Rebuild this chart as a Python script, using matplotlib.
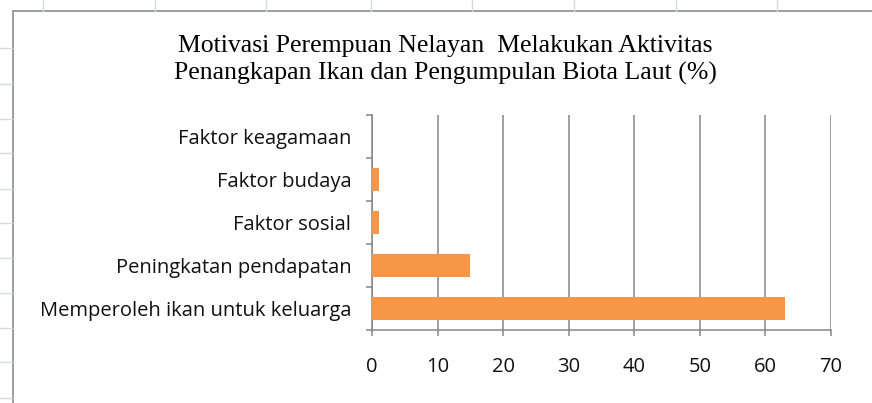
import matplotlib.pyplot as plt
from matplotlib.patches import Rectangle
from matplotlib.lines import Line2D

# chart data
categories = ["Memperoleh ikan untuk keluarga", "Peningkatan pendapatan",
              "Faktor sosial", "Faktor budaya", "Faktor keagamaan"]
values = [63, 15, 1, 1, 0]
xticks = [0, 10, 20, 30, 40, 50, 60, 70]
title = "Motivasi Perempuan Nelayan  Melakukan Aktivitas\nPenangkapan Ikan dan Pengumpulan Biota Laut (%)"

W, H = 872, 403
fig = plt.figure(figsize=(W / 100, H / 100), dpi=100)

# spreadsheet cell lines behind the chart
sheet_col = "#d5d9e2"
for x in [43, 155, 266, 371, 472, 574, 676, 777]:
    fig.add_artist(Line2D([x / W, x / W], [1, 1 - 11 / H], color=sheet_col, lw=1))
for y in [48, 84, 119, 153, 189, 223, 258, 293, 328, 362, 398]:
    fig.add_artist(Line2D([0, 12 / W], [1 - y / H, 1 - y / H], color=sheet_col, lw=1))

# chart area border
fig.add_artist(Rectangle((12.5 / W, -0.1), 1.2, 1 - 11 / H + 0.1, fill=False,
                         edgecolor="#8c8c8c", lw=1.2))

ax = fig.add_axes([372 / W, 1 - 330 / H, (831 - 372) / W, (330 - 115) / H])
grey = "#868686"

ax.barh(range(len(categories)), values, height=0.52, color="#f79646",
        lw=0, zorder=3)

ax.set_xlim(0, 70)
ax.set_ylim(-0.5, len(categories) - 0.5)
ax.set_xticks(xticks)
ax.set_xticklabels([str(v) for v in xticks])
ax.set_yticks(range(len(categories)))
ax.set_yticklabels(categories)
ax.set_yticks([i - 0.5 for i in range(len(categories) + 1)], minor=True)

ax.grid(axis="x", color=grey, lw=1.1, zorder=0)
for s in ["top", "right"]:
    ax.spines[s].set_visible(False)
for s in ["left", "bottom"]:
    ax.spines[s].set_color(grey)
    ax.spines[s].set_linewidth(1.1)

lab_font = "Open Sans"
ax.tick_params(axis="y", which="major", length=0, pad=15, labelsize=14.5,
               labelcolor="#111111")
ax.tick_params(axis="y", which="minor", length=4.3, width=1.1, color=grey)
ax.tick_params(axis="x", length=4.3, width=1.1, color=grey, pad=15.5,
               labelsize=14.5, labelcolor="#111111")
for t in ax.get_xticklabels() + ax.get_yticklabels():
    t.set_fontfamily(lab_font)

fig.text(445 / W, 1 - 60 / H, title, ha="center", va="center",
         fontsize=18.5, family="Liberation Serif", linespacing=1.28)

fig.savefig("out.png", dpi=100)
